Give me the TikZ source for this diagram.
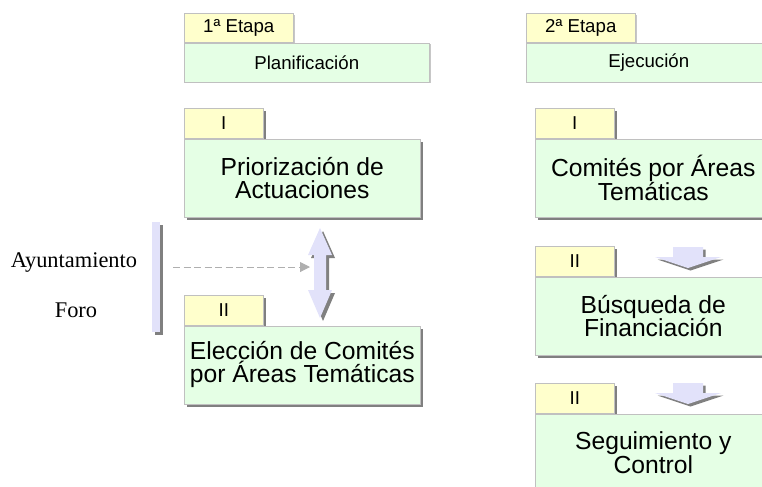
\documentclass[tikz,border=0pt]{standalone}
\usepackage{fontspec}
\setmainfont{Liberation Sans}
\newfontfamily\serifside{Liberation Serif}
\usepackage{tikz}
\usetikzlibrary{arrows.meta,shadows,calc}

\definecolor{tabyellow}{RGB}{255,255,204}
\definecolor{boxgreen}{RGB}{229,255,229}
\definecolor{lilac}{RGB}{226,226,250}
\definecolor{edgegray}{RGB}{192,192,192}
\definecolor{shadegray}{RGB}{128,128,128}
\definecolor{linkgray}{RGB}{175,175,175}

\tikzset{
  headtab/.style={draw=edgegray, fill=tabyellow, anchor=north west, inner sep=0pt,
    minimum width=81.75pt, minimum height=21.75pt, font=\fontsize{14}{16}\selectfont,
    drop shadow={shadow xshift=1pt, shadow yshift=-1pt, fill=black!22, opacity=1}},
  headbox/.style={headtab, fill=boxgreen, minimum width=183.75pt, minimum height=29.25pt},
  steptab/.style={draw=edgegray, fill=tabyellow, anchor=north west, inner sep=0pt,
    minimum width=59.25pt, minimum height=22.5pt, font=\fontsize{14}{16}\selectfont,
    drop shadow={shadow xshift=2.25pt, shadow yshift=-2.25pt, fill=shadegray, opacity=1}},
  stepbox/.style={steptab, fill=boxgreen, minimum width=177pt, minimum height=58.5pt,
    align=center, font=\fontsize{18.5}{17.5}\selectfont},
  sidebar/.style={fill=lilac, minimum width=6pt, minimum height=82.5pt, inner sep=0pt,
    drop shadow={shadow xshift=2.25pt, shadow yshift=-2.25pt, fill=shadegray, opacity=1}},
  sidelabel/.style={anchor=base, font=\serifside\fontsize{16.8}{18}\selectfont},
  link/.style={linkgray, line width=0.75pt, dash pattern=on 5.25pt off 2.6pt,
    -{Triangle[length=7.5pt,width=7.5pt]}},
  % short block arrow pointing down, shadow first
  chevron/.pic={
    \foreach \offs/\tint in {2.5/shadegray,0/lilac}
      \fill[\tint, shift={(\offs,\offs)}] (-15,0) -- (15,0) -- (15,10) -- (33,10)
        -- (0,21) -- (-33,10) -- (-15,10) -- cycle;
  },
  % block arrow with two heads
  twoway/.pic={
    \foreach \offs/\tint in {3/shadegray,0/lilac}
      \fill[\tint, shift={(\offs,\offs)}] (0,-45) -- (12,-18) -- (6,-18) -- (6,17)
        -- (12,17) -- (0,45) -- (-12,17) -- (-6,17) -- (-6,-18) -- (-12,-18) -- cycle;
  }
}

\begin{document}
\begin{tikzpicture}[x=0.75pt,y=-0.75pt]
  \useasboundingbox (0,0) rectangle (762,486);
  \clip (0,0) rectangle (762,486);

  % first stage
  \node[headtab] (etapaA) at (184,13) {1ª Etapa};
  \node[headbox] (plan) at (etapaA.south west) {Planificación};
  \node[steptab] (tabA1) at (184,108) {I};
  \node[stepbox] (boxA1) at (tabA1.south west) {Priorización de\\Actuaciones};
  \node[steptab] (tabA2) at (184,295) {II};
  \node[stepbox] (boxA2) at (tabA2.south west) {Elección de Comités\\por Áreas Temáticas};

  % second stage
  \node[headtab] (etapaB) at (526,13) {2ª Etapa};
  \node[headbox] (ejec) at (etapaB.south west) {Ejecución};
  \node[steptab] (tabB1) at (535,108) {I};
  \node[stepbox] (boxB1) at (tabB1.south west) {Comités por Áreas\\Temáticas};
  \node[steptab] (tabB2) at (535,246) {II};
  \node[stepbox] (boxB2) at (tabB2.south west) {Búsqueda de\\Financiación};
  \node[steptab] (tabB3) at (535,383) {II};
  \node[stepbox] (boxB3) at (tabB3.south west) {Seguimiento y\\Control};
  \pic (downB2) at (688,247) {chevron};
  \pic (downB3) at (688,383) {chevron};

  % who takes part
  \node[sidelabel] (ayto) at (74,267) {Ayuntamiento};
  \node[sidelabel] (foro) at (76,317) {Foro};
  \node[sidebar] (bar) at (156,277) {};
  \pic (vote) at (320,273) {twoway};
  \coordinate (voteL) at (310,267);
  \draw[link, shorten <=9.75pt] (bar.east |- voteL) -- (voteL);
\end{tikzpicture}
\end{document}
